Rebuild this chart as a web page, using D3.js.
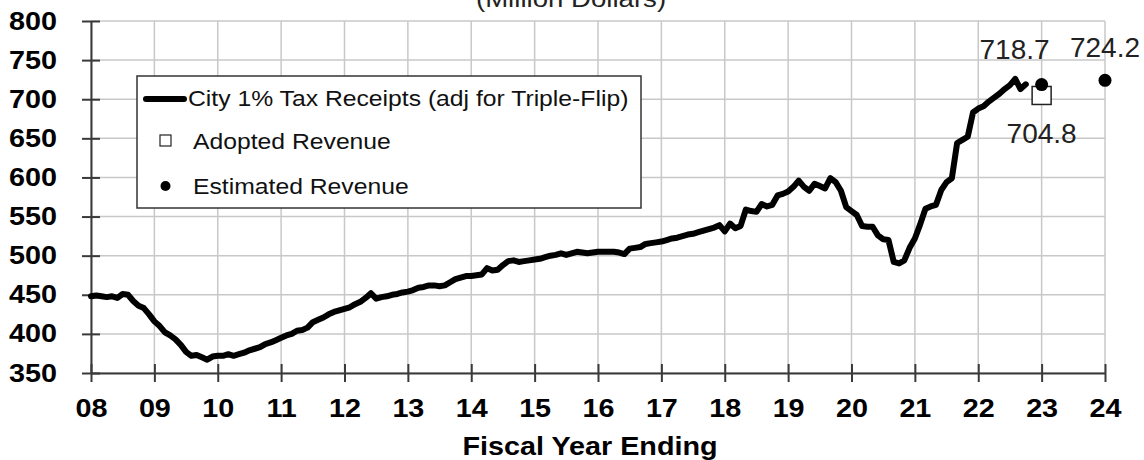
<!DOCTYPE html>
<html lang="en">
<head>
<meta charset="UTF-8" />
<title>City 1% Tax Receipts</title>
<style>
  html, body { margin: 0; background: #fff; }
  svg { display: block; font-family: "Liberation Sans", Arial, Helvetica, sans-serif; }
  .grid line { stroke: #c8c8c8; stroke-width: 1.5px; }
  .axis path, .axis line { stroke: #3a3a3a; stroke-width: 2px; }
  .axis text { fill: #000; font-weight: bold; font-size: 25px; }
</style>
</head>
<body>
<div id="chart"></div>
<script src="https://cdnjs.cloudflare.com/ajax/libs/d3/7.8.5/d3.min.js"></script>
<script>
// monthly receipts, first point at FY 08, one value per month
const startYear = 8;
const receipts = [
  448, 449, 448, 447, 448, 446, 451, 450, 442, 436, 433, 425,
  416, 410, 402, 398, 393, 386, 377, 372, 373, 370, 367, 371,
  372, 372, 374, 372, 374, 376, 379, 381, 383, 387, 389, 392,
  395, 398, 400, 404, 405, 408, 415, 418, 421, 425, 428, 430,
  432, 434, 438, 441, 446, 452, 445, 447, 448, 450, 451, 453,
  454, 456, 459, 460, 462, 462, 461, 462, 466, 470, 472, 474,
  474, 475, 476, 484, 481, 482, 488, 493, 494, 492, 493, 494,
  495, 496, 498, 500, 501, 503, 501, 503, 505, 504, 503, 504,
  505, 505, 505, 505, 504, 502, 509, 510, 511, 515, 516, 517,
  518, 520, 522, 523, 525, 527, 528, 530, 532, 534, 536, 539,
  531, 541, 535, 538, 559, 557, 556, 566, 563, 565, 577, 579,
  582, 588, 596, 588, 583, 592, 589, 586, 599, 594, 583, 562,
  557, 552, 538, 537, 537, 526, 521, 520, 492, 490, 494, 510,
  522, 540, 560, 563, 565, 584, 594, 599, 644, 648, 652, 683,
  688, 691, 697, 702, 707, 713, 718, 726, 713, 719
];
const adopted = [{ fy: 23, value: 704.8 }];
const estimated = [{ fy: 23, value: 718.7 }, { fy: 24, value: 724.2 }];

const xTicks = [8, 9, 10, 11, 12, 13, 14, 15, 16, 17, 18, 19, 20, 21, 22, 23, 24];
const xLabels = ["08", "09", "10", "11", "12", "13", "14", "15", "16", "17", "18", "19", "20", "21", "22", "23", "24"];
const yTicks = [350, 400, 450, 500, 550, 600, 650, 700, 750, 800];

const width = 1144;
const height = 460;
const sx = 1.15; // the source picture is stretched sideways

const svg = d3.select("#chart").append("svg")
  .attr("width", width)
  .attr("height", height);

const x = d3.scaleLinear().domain([8, 24]).range([91, 1105]);
const y = d3.scaleLinear().domain([350, 800]).range([373, 21]);

// title, mostly cut off by the top edge
svg.append("text")
  .attr("transform", `translate(571,7) scale(${sx},1)`)
  .attr("text-anchor", "middle")
  .style("font-size", "24px")
  .attr("fill", "#222")
  .text("(Million Dollars)");

// gridlines
const grid = svg.append("g").attr("class", "grid");
grid.selectAll(".h").data(yTicks).join("line")
  .attr("x1", x(8)).attr("x2", x(24))
  .attr("y1", d => y(d)).attr("y2", d => y(d));
grid.selectAll(".v").data(xTicks).join("line")
  .attr("x1", d => x(d)).attr("x2", d => x(d))
  .attr("y1", y(350)).attr("y2", y(800));

// axes
const xAxis = svg.append("g")
  .attr("class", "axis")
  .attr("transform", `translate(0,${y(350)})`)
  .call(d3.axisBottom(x).tickValues(xTicks).tickFormat((d, i) => xLabels[i]).tickSize(9).tickSizeOuter(0));
xAxis.selectAll(".tick line").attr("y1", -9);
xAxis.selectAll(".tick text")
  .attr("y", 0).attr("dy", 0)
  .attr("transform", `translate(0,44) scale(${sx},1)`);

const yAxis = svg.append("g")
  .attr("class", "axis")
  .attr("transform", `translate(${x(8)},0)`)
  .call(d3.axisLeft(y).tickValues(yTicks).tickSize(9).tickSizeOuter(0));
yAxis.selectAll(".tick line").attr("x1", 9);
yAxis.selectAll(".tick text")
  .attr("x", 0)
  .attr("transform", `translate(-34,0) scale(${sx},1)`);

svg.append("text")
  .attr("transform", `translate(590,455) scale(${sx},1)`)
  .attr("text-anchor", "middle")
  .style("font-size", "25px")
  .style("font-weight", "bold")
  .text("Fiscal Year Ending");

// receipts line
const line = d3.line()
  .x((d, i) => x(startYear + i / 12))
  .y(d => y(d));

svg.append("path")
  .datum(receipts)
  .attr("fill", "none")
  .attr("stroke", "#000")
  .attr("stroke-width", 6)
  .attr("stroke-linejoin", "round")
  .attr("stroke-linecap", "round")
  .attr("d", line);

// adopted and estimated points
svg.selectAll(".adopted").data(adopted).join("rect")
  .attr("x", d => x(d.fy) - 9.5)
  .attr("y", d => y(d.value) - 9)
  .attr("width", 19).attr("height", 18)
  .attr("fill", "#fff").attr("stroke", "#222").attr("stroke-width", 1.5);

svg.selectAll(".est").data(estimated).join("circle")
  .attr("cx", d => x(d.fy))
  .attr("cy", d => y(d.value))
  .attr("r", 6.5)
  .attr("fill", "#000");

const label = (txt, tx, ty, anchor) => svg.append("text")
  .attr("x", tx).attr("y", ty)
  .attr("text-anchor", anchor)
  .style("font-size", "28px")
  .attr("fill", "#222")
  .text(txt);

label(estimated[0].value.toFixed(1), x(23) + 8, y(estimated[0].value) - 26, "end");
label(estimated[1].value.toFixed(1), x(24), y(estimated[1].value) - 23, "middle");
label(adopted[0].value.toFixed(1), x(23), y(adopted[0].value) + 48, "middle");

// legend
const legend = svg.append("g");
legend.append("rect")
  .attr("x", 137).attr("y", 76)
  .attr("width", 504).attr("height", 132)
  .attr("fill", "#fff").attr("stroke", "#333").attr("stroke-width", 1.5);

legend.append("line")
  .attr("x1", 146).attr("x2", 184)
  .attr("y1", 99).attr("y2", 99)
  .attr("stroke", "#000").attr("stroke-width", 6).attr("stroke-linecap", "round");
legend.append("rect")
  .attr("x", 160).attr("y", 135)
  .attr("width", 11).attr("height", 11)
  .attr("fill", "#fff").attr("stroke", "#222").attr("stroke-width", 1.2);
legend.append("circle")
  .attr("cx", 165.5).attr("cy", 186).attr("r", 5)
  .attr("fill", "#000");

const legendItems = [
  { text: "City 1% Tax Receipts (adj for Triple-Flip)", x: 188, y: 106 },
  { text: "Adopted Revenue", x: 193, y: 148.5 },
  { text: "Estimated Revenue", x: 193, y: 193.5 }
];
legend.selectAll(".item").data(legendItems).join("text")
  .attr("transform", d => `translate(${d.x},${d.y}) scale(${sx},1)`)
  .style("font-size", "21.5px")
  .attr("fill", "#111")
  .text(d => d.text);
</script>
</body>
</html>
